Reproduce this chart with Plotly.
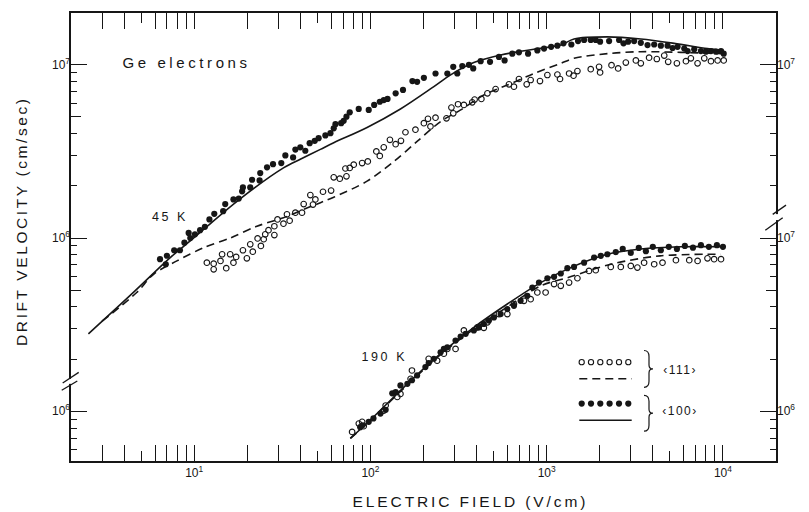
import math
import plotly.graph_objects as go

# ---------------- data ----------------
# 45 K, <100> measured (filled circles)
E45_100 = [6.4, 7.0, 6.9, 7.7, 8.3, 8.8, 9.3, 9.5, 10.1, 10.8, 11.5, 12.2, 13.0, 14.6, 15.0,
           16.7, 17.9, 18.7, 18.9, 20.8, 21.3, 23.5, 23.7, 25.9, 28.0, 31.2, 32.9, 36.4, 37.5,
           40.0, 42.7, 45.2, 48.3, 50.8,
           55.5, 59.3, 61.9, 63.3, 68.2, 70.5, 73.1, 76.3, 85.8, 97.8, 105, 113, 119, 125, 139,
           153, 173, 184, 201, 234, 273, 295, 311, 332, 362, 383, 422, 477, 536, 577, 638, 696,
           784, 885, 966, 1060, 1150,
           1245, 1380, 1506, 1630, 1778, 1898, 2009, 2260, 2575, 2728, 2897, 3134, 3420, 3733,
           4073, 4443, 4850, 5178, 5527, 6032, 6300, 6873, 7500, 8000, 8550, 9130, 9750, 10100]
V45_100 = [7.55e5, 7.9e5, 7.06e5, 8.5e5, 8.5e5, 9.4e5, 1.07e6, 1.0e6, 1.05e6, 1.11e6, 1.16e6,
           1.28e6, 1.38e6, 1.43e6, 1.57e6, 1.67e6, 1.69e6, 1.86e6, 1.96e6, 1.96e6, 2.17e6, 2.15e6,
           2.37e6, 2.56e6, 2.67e6, 2.71e6, 3.0e6, 2.92e6, 3.24e6, 3.34e6, 3.19e6, 3.53e6, 3.64e6,
           3.77e6,
           3.91e6, 4.03e6, 4.30e6, 4.54e6, 4.60e6, 4.75e6, 5.02e6, 5.32e6, 5.56e6, 5.49e6, 5.87e6,
           6.12e6, 6.26e6, 6.35e6, 6.84e6, 7.16e6, 8.06e6, 7.98e6, 8.41e6, 8.91e6, 8.91e6, 9.74e6,
           8.91e6, 9.83e6, 1.0e7, 9.53e6, 1.05e7, 1.04e7, 1.11e7, 1.06e7, 1.16e7, 1.18e7, 1.16e7,
           1.21e7, 1.24e7, 1.27e7, 1.29e7,
           1.33e7, 1.31e7, 1.37e7, 1.39e7, 1.39e7, 1.39e7, 1.36e7, 1.37e7, 1.39e7, 1.33e7, 1.36e7,
           1.37e7, 1.34e7, 1.30e7, 1.31e7, 1.29e7, 1.29e7, 1.25e7, 1.27e7, 1.24e7, 1.20e7, 1.23e7,
           1.20e7, 1.19e7, 1.20e7, 1.19e7, 1.20e7, 1.16e7]

# 45 K, <111> measured (open circles)
E45_111 = [11.8, 12.9, 12.9, 14.1, 14.4, 15.2, 16.0, 16.7, 17.3, 18.9, 19.9, 20.8, 21.5, 22.9,
           23.9, 24.8, 25.3, 26.4, 28.5, 28.5, 29.7, 32.1, 33.6, 34.8, 37.5, 40.9, 41.8, 45.6,
           47.2, 48.7,
           53.8, 59.8, 61.9, 67.0, 73.1, 72.1, 76.3, 80.4, 89.7, 96.6, 108, 113, 119, 129, 139,
           149, 158, 180, 201, 212, 219, 234, 270, 288, 295, 314, 339, 378, 390, 426, 461, 513,
           611, 652, 696, 770, 811, 916, 1009, 1150, 1190,
           1340, 1420, 1494, 1778, 1982, 2009, 2332, 2543, 2812, 3206, 3420, 3811, 4215, 4644,
           4891, 5478, 6166, 6577, 7178, 7834, 8550, 9330, 10100]
V45_111 = [7.21e5, 7.11e5, 6.60e5, 7.38e5, 8.06e5, 6.70e5, 8.06e5, 7.21e5, 7.78e5, 8.5e5, 7.64e5,
           9.2e5, 8.34e5, 9.95e5, 9.0e5, 9.84e5, 1.05e6, 1.11e6, 1.04e6, 1.17e6, 1.28e6, 1.21e6,
           1.37e6, 1.26e6, 1.40e6, 1.40e6, 1.57e6, 1.77e6, 1.56e6, 1.67e6,
           1.85e6, 1.88e6, 2.24e6, 2.20e6, 2.27e6, 2.52e6, 2.54e6, 2.65e6, 2.71e6, 2.77e6, 3.16e6,
           2.98e6, 3.34e6, 3.69e6, 3.48e6, 3.64e6, 4.08e6, 4.22e6, 4.60e6, 4.88e6, 4.41e6, 4.95e6,
           4.91e6, 5.66e6, 5.25e6, 5.92e6, 5.87e6, 6.07e6, 6.30e6, 6.35e6, 6.84e6, 7.24e6, 7.71e6,
           7.48e6, 8.28e6, 7.71e6, 8.17e6, 8.06e6, 8.73e6, 8.79e6, 8.28e6,
           8.91e6, 8.65e6, 9.2e6, 9.44e6, 9.74e6, 9.03e6, 9.95e6, 9.53e6, 1.03e7, 1.06e7, 1.02e7,
           1.10e7, 1.08e7, 1.13e7, 1.04e7, 1.02e7, 1.05e7, 1.09e7, 1.02e7, 1.09e7, 1.05e7, 1.06e7,
           1.06e7]

# 45 K theory curves
E45_100_calc = [2.51, 4.52, 7.31, 9.49, 17.5, 32.1, 40.0, 52.0, 61.9, 95.7, 148, 229, 285, 386,
                548, 847, 1202, 1429, 2209, 3420, 5290, 8170, 10100]
V45_100_calc = [2.80e5, 4.86e5, 7.71e5, 9.62e5, 1.63e6, 2.54e6, 2.85e6, 3.25e6, 3.55e6, 4.35e6,
                5.56e6, 7.49e6, 8.75e6, 1.03e7, 1.14e7, 1.23e7, 1.30e7, 1.41e7, 1.45e7, 1.41e7,
                1.33e7, 1.24e7, 1.21e7]
E45_111_calc = [3.0, 4.72, 5.88, 7.98, 11.3, 16.0, 22.7, 32.1, 43.6, 52.0, 61.9, 95.7, 136, 184,
                250, 325, 440, 598, 847, 1202, 1429, 2209, 3420, 5770, 10100]
V45_111_calc = [3.31e5, 4.85e5, 6.18e5, 7.38e5, 8.79e5, 1.0e6, 1.17e6, 1.31e6, 1.49e6, 1.60e6,
                1.72e6, 2.13e6, 2.77e6, 3.61e6, 4.70e6, 5.49e6, 6.70e6, 7.64e6, 8.91e6, 1.02e7,
                1.09e7, 1.16e7, 1.19e7, 1.18e7, 1.16e7]

# 190 K, <100> measured (filled circles)
E190_100 = [87.5, 90, 97.8, 104, 114, 122, 133, 139, 148, 162, 172, 184, 205, 214, 229, 250, 261,
            273, 304, 325, 347, 386, 412, 440, 470, 502, 548, 598, 652, 711, 776, 829, 904,
            1009, 1101, 1202, 1310, 1429, 1630, 1858, 2028, 2209, 2466, 2700, 3000, 3330, 3655,
            4000, 4443, 4930, 5480, 6080, 6760, 7500, 8320, 9240, 10000]
V190_100 = [8.1e5, 8.3e5, 8.69e5, 9.09e5, 9.70e5, 1.02e6, 1.27e6, 1.29e6, 1.41e6, 1.44e6, 1.51e6,
            1.61e6, 1.80e6, 1.90e6, 2.01e6, 2.19e6, 2.29e6, 2.34e6, 2.56e6, 2.70e6, 2.80e6,
            2.93e6, 3.05e6, 3.19e6, 3.34e6, 3.48e6, 3.64e6, 3.89e6, 4.06e6, 4.34e6, 4.64e6,
            5.18e6, 5.53e6, 5.86e6, 5.97e6, 6.24e6, 6.70e6, 6.81e6, 7.21e6, 7.71e6, 7.89e6,
            8.06e6, 8.3e6, 8.65e6, 8.2e6, 8.77e6, 8.4e6, 8.9e6, 8.5e6, 8.9e6, 8.65e6, 9.0e6,
            8.8e6, 9.1e6, 8.9e6, 9.1e6, 8.9e6]

# 190 K, <111> measured (open circles)
E190_111 = [78.7, 85.9, 89.7, 91.6, 119, 122, 142, 148, 169, 172, 214, 239, 261, 273, 304, 339,
            404, 440, 461, 536, 598, 652, 743, 811, 885, 986, 1101, 1202,
            1340, 1494, 1738, 1898, 2310, 2633, 3000, 3270, 3570, 4073, 4540, 5410, 6440, 7180,
            8170, 8910, 9750]
V190_111 = [7.6e5, 8.49e5, 8.69e5, 8.2e5, 1.01e6, 1.08e6, 1.21e6, 1.26e6, 1.54e6, 1.72e6, 2.01e6,
            1.96e6, 2.15e6, 2.29e6, 2.29e6, 2.93e6, 3.05e6, 3.03e6, 3.26e6, 3.64e6, 3.64e6,
            4.16e6, 4.34e6, 4.44e6, 4.85e6, 4.85e6, 5.42e6, 5.30e6,
            5.53e6, 5.86e6, 6.46e6, 6.52e6, 6.81e6, 6.81e6, 6.90e6, 6.75e6, 7.21e6, 7.06e6,
            7.21e6, 7.45e6, 7.45e6, 7.38e6, 7.64e6, 7.55e6, 7.55e6]

# 190 K theory curves
E190_100_calc = [76.9, 104, 162, 250, 386, 598, 925, 1368, 2209, 3420, 5770, 10100]
V190_100_calc = [6.97e5, 9.27e5, 1.44e6, 2.15e6, 3.05e6, 4.16e6, 5.53e6, 6.75e6, 8.06e6, 8.65e6,
                 8.9e6, 8.9e6]
E190_111_calc = [76.9, 104, 162, 250, 386, 598, 925, 1310, 2310, 4400, 9750]
V190_111_calc = [6.97e5, 9.2e5, 1.42e6, 2.12e6, 2.98e6, 4.0e6, 5.3e6, 5.9e6, 7.06e6, 7.89e6,
                 8.06e6]

# tick labels
X_TICKS = [10, 100, 1000, 10000]
X_TICKTEXT = ["10<sup>1</sup>", "10<sup>2</sup>", "10<sup>3</sup>", "10<sup>4</sup>"]
SUP6, SUP7 = "10<sup>6</sup>", "10<sup>7</sup>"

# ---------------- layout helpers ----------------
W, H = 809, 512
L, R, T, B = 71, 776, 11, 461          # plot area in pixels


def pxx(px):
    return (px - L) / (R - L)


def pxy(py):
    return (B - py) / (B - T)


INK = "#161616"
FONT = "Liberation Sans, Arial, Helvetica, sans-serif"
X_RANGE = [math.log10(2), math.log10(2e4)]
Y_UP = [4.713, 7.299]      # 45 K scale
Y_LO = [5.713, 8.299]      # 190 K scale (one decade higher at the same height)

fig = go.Figure()


def dots(E, V, ya, filled):
    return go.Scatter(
        x=E, y=V, xaxis="x", yaxis=ya, mode="markers", showlegend=False, hoverinfo="skip",
        marker=dict(symbol="circle" if filled else "circle-open",
                    size=6.2 if filled else 5.6, color=INK,
                    line=dict(width=0 if filled else 1.1, color=INK)))


def curve(E, V, ya, dashed):
    return go.Scatter(
        x=E, y=V, xaxis="x", yaxis=ya, mode="lines", showlegend=False, hoverinfo="skip",
        line=dict(color=INK, width=1.6, dash="8px,5px" if dashed else "solid",
                  shape="spline", smoothing=0.9))


fig.add_trace(curve(E45_100_calc, V45_100_calc, "y", False))
fig.add_trace(curve(E45_111_calc, V45_111_calc, "y", True))
fig.add_trace(dots(E45_111, V45_111, "y", False))
fig.add_trace(dots(E45_100, V45_100, "y", True))

fig.add_trace(curve(E190_100_calc, V190_100_calc, "y2", False))
fig.add_trace(curve(E190_111_calc, V190_111_calc, "y2", True))
fig.add_trace(dots(E190_111, V190_111, "y2", False))
fig.add_trace(dots(E190_100, V190_100, "y2", True))


# placeholder (no visible points) so that each tick/label-only axis gets its subplot
def anchor_trace(xa, ya):
    fig.add_trace(go.Scatter(x=[None], y=[None], xaxis=xa, yaxis=ya, mode="markers",
                             showlegend=False, hoverinfo="skip"))


for ya in ["y3", "y4", "y5", "y7", "y8"]:
    anchor_trace("x", ya)
anchor_trace("x2", "y")

# ---- legend drawn in its own small hidden subplot ----
LEG = dict(x0=570, x1=640, y0=350, y1=430)


def lx(px):
    return (px - LEG["x0"]) / (LEG["x1"] - LEG["x0"])


def ly(py):
    return (LEG["y1"] - py) / (LEG["y1"] - LEG["y0"])


leg_dot_px = [581.7, 591, 600.3, 609.6, 619, 628.3]
fig.add_trace(go.Scatter(x=[lx(p) for p in leg_dot_px], y=[ly(361.7)] * 6, xaxis="x3", yaxis="y6",
                         mode="markers", showlegend=False, hoverinfo="skip",
                         marker=dict(symbol="circle-open", size=5.2, color=INK,
                                     line=dict(width=1.1, color=INK))))
fig.add_trace(go.Scatter(x=[lx(579.3), lx(631.7)], y=[ly(378.3)] * 2, xaxis="x3", yaxis="y6",
                         mode="lines", showlegend=False, hoverinfo="skip",
                         line=dict(color=INK, width=1.5, dash="8px,5px")))
fig.add_trace(go.Scatter(x=[lx(p) for p in leg_dot_px], y=[ly(403.3)] * 6, xaxis="x3", yaxis="y6",
                         mode="markers", showlegend=False, hoverinfo="skip",
                         marker=dict(symbol="circle", size=6.2, color=INK, line=dict(width=0))))
fig.add_trace(go.Scatter(x=[lx(579.3), lx(631.7)], y=[ly(420)] * 2, xaxis="x3", yaxis="y6",
                         mode="lines", showlegend=False, hoverinfo="skip",
                         line=dict(color=INK, width=1.5)))

tickfont = dict(family=FONT, size=12, color=INK)
common = dict(showgrid=False, zeroline=False, tickfont=tickfont, tickcolor=INK)

# y tick positions (upper-scale values); thanks to the exact one-decade offset the
# lower (190 K) scale ticks fall on these same heights, so one set serves both sides
Y_MAJOR = [1e5, 1e6, 1e7]
Y_MID = [5e5, 5e6]
Y_MINOR = [6e4, 7e4, 8e4, 9e4, 2e5, 3e5, 4e5, 6e5, 7e5, 8e5, 9e5,
           2e6, 3e6, 4e6, 6e6, 7e6, 8e6, 9e6]
minor_x = [3, 4, 6, 7, 8, 9, 20, 30, 40, 60, 70, 80, 90, 200, 300, 400, 600, 700, 800, 900,
           2000, 3000, 4000, 6000, 7000, 8000, 9000]


def ytick_axis(vals, length, width):
    return dict(type="log", range=Y_UP, overlaying="y", anchor="x", side="left",
                showline=False, mirror="ticks", ticks="inside", ticklen=length, tickwidth=width,
                tickmode="array", tickvals=vals, showticklabels=False, **common)


def ylabel_axis(rng, side, vals, texts):
    return dict(type="log", range=rng, overlaying="y", anchor="x", side=side,
                showline=False, ticks="", tickmode="array", tickvals=vals, ticktext=texts,
                showticklabels=True, **common)


fig.update_layout(
    width=W, height=H,
    margin=dict(l=L, r=W - R, t=T, b=H - B, pad=0),
    paper_bgcolor="white", plot_bgcolor="white",
    showlegend=False,
    xaxis=dict(type="log", range=X_RANGE, domain=[0, 1], anchor="y",
               showline=True, linecolor=INK, linewidth=1.5, mirror="allticks",
               ticks="inside", ticklen=16, tickwidth=1.2,
               tickmode="array", tickvals=X_TICKS, ticktext=X_TICKTEXT,
               minor=dict(tickmode="array", tickvals=minor_x, ticks="inside", ticklen=6,
                          tickwidth=1.1, tickcolor=INK, showgrid=False),
               **common),
    xaxis2=dict(type="log", range=X_RANGE, overlaying="x", anchor="y", side="bottom",
                showline=False, mirror="ticks", ticks="inside", ticklen=10, tickwidth=1.1,
                tickmode="array", tickvals=[5, 50, 500, 5000], showticklabels=False, **common),
    xaxis3=dict(domain=[pxx(LEG["x0"]), pxx(LEG["x1"])], range=[0, 1], anchor="y6",
                visible=False, fixedrange=True),
    # main y: 45 K scale, carries the frame line and the major ticks (both sides)
    yaxis=dict(type="log", range=Y_UP, domain=[0, 1], anchor="x", side="left",
               showline=True, linecolor=INK, linewidth=1.5, mirror="ticks",
               ticks="inside", ticklen=16, tickwidth=1.2,
               tickmode="array", tickvals=Y_MAJOR, showticklabels=False, **common),
    # 190 K data scale, left label
    yaxis2=ylabel_axis(Y_LO, "left", [1e6], [SUP6]),
    yaxis3=ylabel_axis(Y_UP, "left", [1e6, 1e7], [SUP6, SUP7]),
    yaxis4=ylabel_axis(Y_UP, "right", [1e7], [SUP7]),
    yaxis7=ylabel_axis(Y_LO, "right", [1e6, 1e7], [SUP6, SUP7]),
    yaxis5=ytick_axis(Y_MID, 10, 1.1),
    yaxis8=ytick_axis(Y_MINOR, 6, 1.1),
    yaxis6=dict(domain=[pxy(LEG["y1"]), pxy(LEG["y0"])], range=[0, 1], anchor="x3",
                visible=False, fixedrange=True),
)

# ---- axis break marks and legend braces ----
shapes = []


def seg(x0, y0, x1, y1, w=1.3):
    shapes.append(dict(type="line", xref="paper", yref="paper",
                       x0=pxx(x0), y0=pxy(y0), x1=pxx(x1), y1=pxy(y1),
                       line=dict(color=INK, width=w)))


def gap(xc, ya, yb):
    shapes.append(dict(type="rect", xref="paper", yref="paper",
                       x0=pxx(xc - 3), x1=pxx(xc + 3), y0=pxy(yb), y1=pxy(ya),
                       fillcolor="white", line=dict(width=0), layer="above"))


def brace(xl, ytop, ybot):
    ym = (ytop + ybot) / 2
    xm = xl + 5
    pts = lambda px, py: f"{pxx(px):.5f},{pxy(py):.5f}"
    path = (f"M {pts(xl, ytop)} Q {pts(xm, ytop)} {pts(xm, ytop + 6)} "
            f"L {pts(xm, ym - 4)} Q {pts(xm, ym)} {pts(xm + 4, ym)} "
            f"Q {pts(xm, ym)} {pts(xm, ym + 4)} "
            f"L {pts(xm, ybot - 6)} Q {pts(xm, ybot)} {pts(xl, ybot)}")
    shapes.append(dict(type="path", xref="paper", yref="paper", path=path,
                       line=dict(color=INK, width=1.2)))


gap(L, 378.5, 383.5)
seg(62.7, 382.7, 78.7, 372)
seg(61.7, 390, 77.3, 380.7)
gap(R, 213, 219)
seg(772.7, 213.3, 786, 204)
seg(765.3, 229.3, 782.7, 216.7)
brace(644, 350, 387)
brace(644, 395, 431)
fig.update_layout(shapes=shapes)


# ---- texts ----
def note(text, px, py, size, angle=0, family=FONT):
    fig.add_annotation(text=text, x=pxx(px), y=pxy(py), xref="paper", yref="paper",
                       showarrow=False, xanchor="center", yanchor="middle", textangle=angle,
                       font=dict(family=family, size=size, color=INK))


note("Ge electrons", 186, 60.5, 15)
note("45 K", 170, 216, 12.5)
note("190 K", 384, 357, 12.5)
note("ELECTRIC FIELD (V/cm)", 470, 502, 15.5)
note("DRIFT VELOCITY (cm/sec)", 21, 220, 15.5, angle=-90)
note("‹111›", 680, 369.3, 12)
note("‹100›", 680, 410.7, 12)

spacing_js = """
var sp = {'Ge electrons': '3.6px', '45 K': '2.5px', '190 K': '2.6px',
          'ELECTRIC FIELD (V/cm)': '2.9px', 'DRIFT VELOCITY (cm/sec)': '2.6px',
          '‹111›': '1.5px', '‹100›': '1.5px'};
document.querySelectorAll('text.annotation-text').forEach(function(t){
  var k = t.textContent;
  if (sp[k]) { t.style.letterSpacing = sp[k]; }
});
"""

fig.write_html("out.html", post_script=spacing_js)
